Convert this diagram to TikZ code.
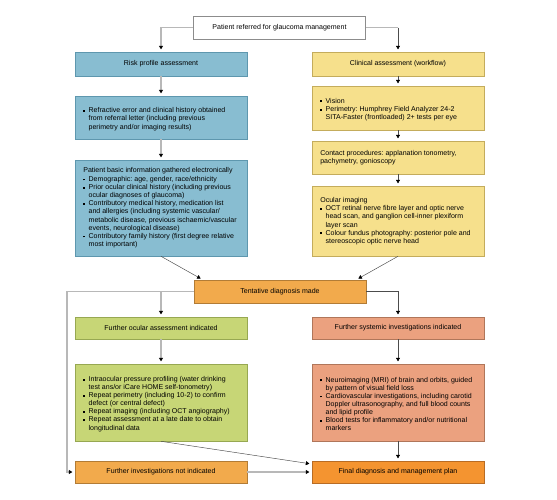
\documentclass[tikz,border=0pt]{standalone}
\usepackage{fontspec}
\setmainfont{Liberation Sans}
\usetikzlibrary{arrows.meta,calc}

\definecolor{riskfill}{HTML}{88BDD1}
\definecolor{riskline}{HTML}{5E97AE}
\definecolor{clinfill}{HTML}{F6E08C}
\definecolor{clinline}{HTML}{C4AC5C}
\definecolor{tentfill}{HTML}{F2AA4C}
\definecolor{tentline}{HTML}{B27C36}
\definecolor{ocufill}{HTML}{C7D676}
\definecolor{oculine}{HTML}{97A852}
\definecolor{sysfill}{HTML}{EBA17F}
\definecolor{sysline}{HTML}{B0765A}
\definecolor{finalfill}{HTML}{F49430}
\definecolor{finalline}{HTML}{B86C24}

\newcommand{\boxfont}{\fontsize{6}{7.1}\selectfont\frenchspacing\hyphenpenalty=10000\relax}
% small square bullet, text hanging beside it
\newcommand{\itm}[1]{\par\noindent\makebox[1.6mm][l]{\raisebox{0.25ex}{\rule{0.5ex}{0.5ex}}}%
  \parbox[t]{\dimexpr\linewidth-1.6mm\relax}{\raggedright #1}\par}

\begin{document}
\begin{tikzpicture}[x=0.03cm, y=-0.03cm,
  box/.style={draw, line width=0.5pt, minimum width=5.16cm, inner sep=0pt,
    align=center, font=\boxfont},
  listbox/.style={box, text width=4.66cm, align=flush left},
  risk/.style={fill=riskfill, draw=riskline},
  clin/.style={fill=clinfill, draw=clinline},
  tent/.style={fill=tentfill, draw=tentline},
  ocu/.style={fill=ocufill, draw=oculine},
  sys/.style={fill=sysfill, draw=sysline},
  fin/.style={fill=finalfill, draw=finalline},
  greyline/.style={draw=black!28, line width=0.9pt},
  greyarrow/.style={greyline, shorten >=2pt,
    -{Triangle[length=3pt,width=3.4pt,color=black]}},
  darkarrow/.style={draw=black!70, line width=0.4pt, shorten >=2pt,
    -{Triangle[length=3pt,width=3.4pt,color=black]}}]

\useasboundingbox (0,0) rectangle (557,499);

% top
\node[box, fill=white, draw=black!45, minimum height=0.69cm] (referred) at (279.5,27.5) {Patient referred for glaucoma management};

% left column
\node[box, risk, minimum height=0.72cm] (riskhead) at (161,64) {Risk profile assessment};
\node[listbox, risk, minimum height=1.29cm] (riskletter) at (161,117.5) {\itm{Refractive error and clinical history obtained\\ from referral letter (including previous\\ perimetry and/or imaging results)}};
\node[listbox, risk, minimum height=2.88cm] (riskinfo) at (161,208) {Patient basic information gathered electronically
  \itm{Demographic: age, gender, race/ethnicity}
  \itm{Prior ocular clinical history (including previous\\ ocular diagnoses of glaucoma)}
  \itm{Contributory medical history, medication list\\ and allergies (including systemic vascular/\\ metabolic disease, previous ischaemic/vascular\\ events, neurological disease)}
  \itm{Contributory family history (first degree relative\\ most important)}};

% right column
\node[box, clin, minimum height=0.72cm] (clinhead) at (398,64) {Clinical assessment (workflow)};
\node[listbox, clin, minimum height=1.32cm] (clinvision) at (398,108) {\itm{Vision}
  \itm{Perimetry: Humphrey Field Analyzer 24-2\\ SITA-Faster (frontloaded) 2+ tests per eye}};
\node[listbox, clin, minimum height=0.99cm] (clincontact) at (398,157.5) {Contact procedures: applanation tonometry,\\ pachymetry, gonioscopy};
\node[listbox, clin, minimum height=2.10cm] (climaging) at (398,221) {Ocular imaging
  \itm{OCT retinal nerve fibre layer and optic nerve\\ head scan, and ganglion cell-inner plexiform\\ layer scan}
  \itm{Colour fundus photography: posterior pole and\\ stereoscopic optic nerve head}};

% diagnosis
\node[box, tent, minimum height=0.69cm] (tentative) at (280,291.5) {Tentative diagnosis made};

\node[box, ocu, minimum height=0.66cm] (ocuhead) at (161,328) {Further ocular assessment indicated};
\node[listbox, ocu, minimum height=2.31cm] (ocutests) at (161,402.5) {\itm{Intraocular pressure profiling (water drinking\\ test ans/or iCare HOME self-tonometry)}
  \itm{Repeat perimetry (including 10-2) to confirm\\ defect (or central defect)}
  \itm{Repeat imaging (including OCT angiography)}
  \itm{Repeat assessment at a late date to obtain\\ longitudinal data}};

\node[box, sys, minimum height=0.66cm] (syshead) at (398,328) {Further systemic investigations indicated};
\node[listbox, sys, minimum height=2.31cm] (systests) at (398,402.5) {\itm{Neuroimaging (MRI) of brain and orbits, guided\\ by pattern of visual field loss}
  \itm{Cardiovascular investigations, including carotid\\ Doppler ultrasonography, and full blood counts\\ and lipid profile}
  \itm{Blood tests for inflammatory and/or nutritional\\ markers}};

\node[box, tent, minimum height=0.66cm] (notneeded) at (161,472) {Further investigations not indicated};
\node[box, fin, minimum height=0.66cm] (final) at (398,472) {Final diagnosis and management plan};

\coordinate (sideturn) at (67,291.5);
\coordinate (clinturn) at (referred.east -| clinhead.north);

\draw[greyline] (referred.east) -- (clinturn);

\begin{scope}[greyarrow]
  \draw (referred.west) -| (riskhead.north);
  \draw (riskhead) -- (riskletter);
  \draw (riskletter) -- (riskinfo);
  \draw (tentative.west) -- (sideturn) |- (notneeded.west);
  \draw (tentative.west -| ocuhead.north) -- (ocuhead.north);
  \draw (ocuhead) -- (ocutests);
  \draw (notneeded) -- (final);
\end{scope}

\begin{scope}[darkarrow]
  \draw (clinturn) -- (clinhead.north);
  \draw (clinhead) -- (clinvision);
  \draw (clinvision) -- (clincontact);
  \draw (clincontact) -- (climaging);
  \draw (riskinfo.south) -- ($(tentative.north west)+(9,0)$);
  \draw (climaging.south) -- ($(tentative.north east)+(-10,0)$);
  \draw (tentative.east) -| (syshead.north);
  \draw (syshead) -- (systests);
  \draw (systests) -- (final);
  \draw (ocutests.south) -- ($(final.west)+(0,-8)$);
\end{scope}
\end{tikzpicture}
\end{document}
